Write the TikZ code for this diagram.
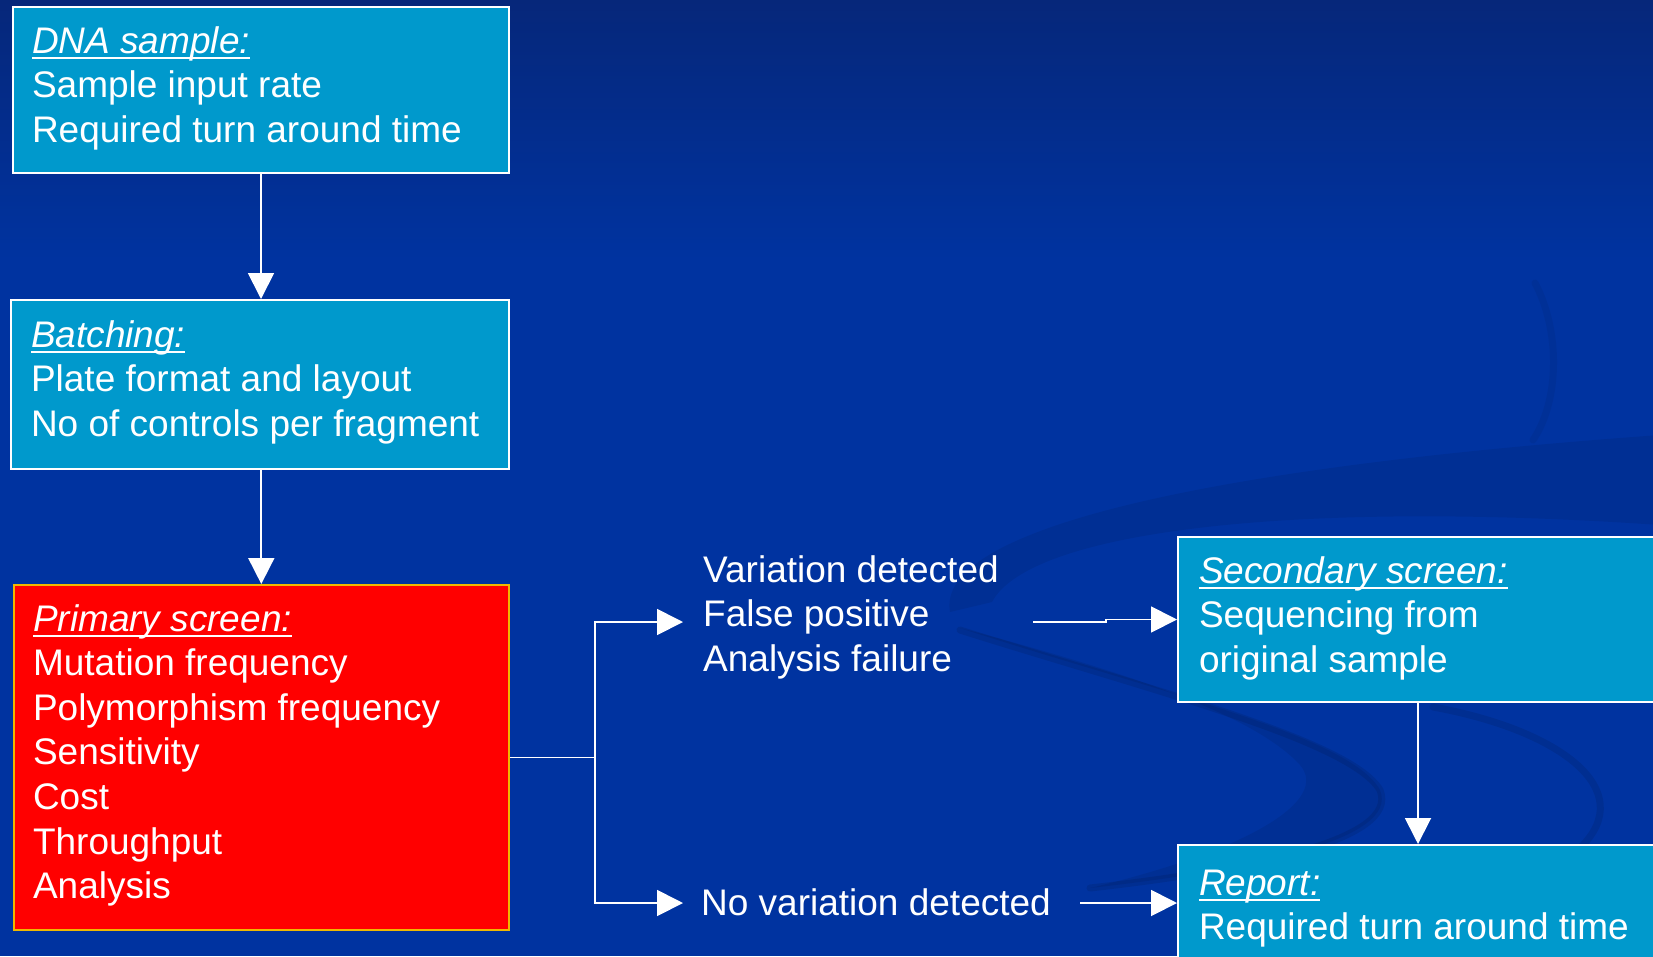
\documentclass[tikz,border=0pt]{standalone}
\usepackage{fontspec}
\setmainfont{Liberation Sans}
\usetikzlibrary{arrows.meta,calc}
\definecolor{bgtop}{HTML}{06277A}
\definecolor{bgmid}{HTML}{0033A0}
\definecolor{boxcyan}{HTML}{0099CC}
\definecolor{boxred}{HTML}{FF0000}
\definecolor{boxgold}{HTML}{F0B800}
\newcommand{\myul}[1]{\leavevmode\setbox0\hbox{#1}\rlap{\rule[-6pt]{\wd0}{1.8pt}}\box0}
\tikzset{
  txt/.style={font=\fontsize{37pt}{44.6pt}\selectfont, text=white, anchor=base west, inner ysep=0pt},
  cbox/.style={txt, draw=white, line width=2pt, fill=boxcyan},
  rbox/.style={txt, draw=boxgold, line width=2pt, fill=boxred},
  conn/.style={draw=white, line width=1.8pt},
  arr/.style={conn, -{Triangle[length=26pt,width=26pt]}},
  swfill/.style={fill=black, opacity=0.07},
  swline/.style={draw=black, opacity=0.09, line width=7pt, line cap=round},
}
\begin{document}
\begin{tikzpicture}[x=1pt,y=-1pt]
\useasboundingbox (0,0) rectangle (1653,956);
\clip (0,0) rectangle (1653,956);
% background
\fill[bgmid] (0,0) rectangle (1653,956);
\shade[top color=bgtop, bottom color=bgmid] (0,0) rectangle (1653,260);
% faint swooshes
\fill[swfill] (950,612) .. controls (935,530) and (1200,468) .. (1660,435)
  -- (1660,525) .. controls (1300,500) and (1030,530) .. (992,602) -- cycle;
\fill[swfill] (960,628) .. controls (1150,690) and (1350,735) .. (1380,790)
  .. controls (1400,840) and (1250,870) .. (1090,888)
  .. controls (1250,850) and (1330,800) .. (1300,765)
  .. controls (1250,710) and (1100,665) .. (960,628) -- cycle;
\draw[swline] (960,630) .. controls (1150,690) and (1350,740) .. (1380,790)
  .. controls (1400,840) and (1250,870) .. (1090,888);
\draw[swline] (1433,707) .. controls (1560,730) and (1640,790) .. (1580,848);
\draw[swline, opacity=0.05] (1535,283) .. controls (1560,330) and (1560,400) .. (1533,440);

% boxes
\node[cbox, inner xsep=19pt, text height=46pt, text depth=120pt] (dna) at (12,53)
  {\parbox[t]{458pt}{\myul{\itshape DNA sample:}\\Sample input rate\\Required turn around time}};
\node[cbox, inner xsep=20.5pt, text height=47pt, text depth=122pt] (batch) at (9.5,347)
  {\parbox[t]{457.5pt}{\myul{\itshape Batching:}\\Plate format and layout\\No of controls per fragment}};
\node[rbox, inner xsep=19.4pt, text height=46pt, text depth=299pt] (prim) at (12.6,631)
  {\parbox[t]{456.6pt}{\myul{\itshape Primary screen:}\\Mutation frequency\\Polymorphism frequency\\Sensitivity\\Cost\\Throughput\\Analysis}};
\node[cbox, inner xsep=21pt, text height=46pt, text depth=119pt] (sec) at (1177,583)
  {\parbox[t]{438pt}{\myul{\itshape Secondary screen:}\\Sequencing from\\original sample}};
\node[cbox, inner xsep=21pt, text height=50pt, text depth=66pt] (rep) at (1177,895)
  {\parbox[t]{438pt}{\myul{\itshape Report:}\\Required turn around time}};

% free texts
\node[txt, inner xsep=20pt, text height=30pt, text depth=110pt] (var) at (683,582)
  {\parbox[t]{310pt}{Variation detected\\False positive\\Analysis failure}};
\node[txt, inner xsep=18pt, text height=30pt, text depth=6pt] (novar) at (683,915)
  {\parbox[t]{361pt}{No variation detected}};

% connectors
\coordinate (br) at (595,757.5);
\coordinate (j1) at (1106,620);
\draw[arr] (dna.south) -- (dna.south |- batch.north);
\draw[arr] (batch.south -| prim.north) -- (prim.north);
\draw[conn] (prim.east) -- (br);
\draw[arr] (br) |- (var.west);
\draw[arr] (br) |- (novar.west);
\draw[arr] (var.east) -| (j1) |- (sec.west);
\draw[arr] (novar.east) -- (rep.west);
\draw[arr] (sec.south) -- (rep.north);
\end{tikzpicture}
\end{document}
